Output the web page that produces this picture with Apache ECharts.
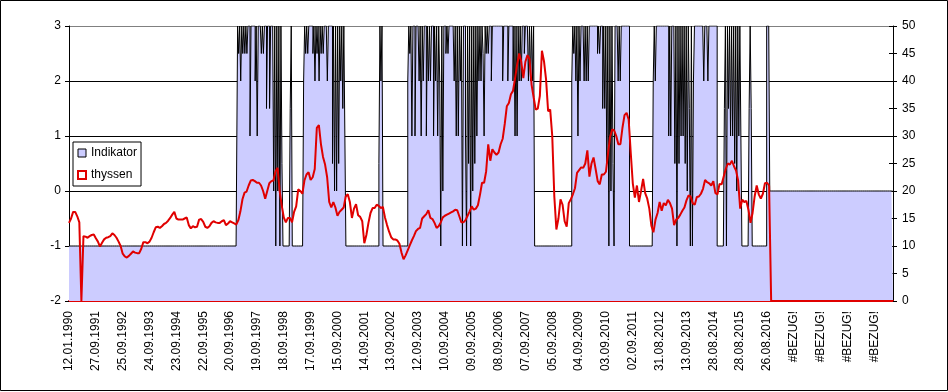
<!DOCTYPE html>
<html>
<head>
<meta charset="utf-8">
<script src="https://cdn.jsdelivr.net/npm/echarts@6/dist/echarts.min.js"></script>
<style>
html,body{margin:0;padding:0;background:#fff;}
#chart{width:948px;height:392px;}
</style>
</head>
<body>
<div id="chart"></div>
<script>
// Tick labels shown every 13th category on the category axis
var tickLabels = ["12.01.1990","27.09.1991","25.09.1992","24.09.1993","23.09.1994","22.09.1995","20.09.1996","19.09.1997","18.09.1998","17.09.1999","15.09.2000","14.09.2001","13.09.2002","12.09.2003","10.09.2004","09.09.2005","08.09.2006","07.09.2007","05.09.2008","04.09.2009","03.09.2010","02.09.2011","31.08.2012","13.09.2013","28.08.2014","28.08.2015","26.08.2016","#BEZUG!","#BEZUG!","#BEZUG!","#BEZUG!"];
var labelEvery = 13;

// Indikator (left axis, -2..3), finer sampling (800 steps)
var indikator = [
-1,-1,-1,-1,-1,-1,-1,-1,-1,-1,-1,-1,-1,-1,-1,-1,-1,-1,-1,-1,
-1,-1,-1,-1,-1,-1,-1,-1,-1,-1,-1,-1,-1,-1,-1,-1,-1,-1,-1,-1,
-1,-1,-1,-1,-1,-1,-1,-1,-1,-1,-1,-1,-1,-1,-1,-1,-1,-1,-1,-1,
-1,-1,-1,-1,-1,-1,-1,-1,-1,-1,-1,-1,-1,-1,-1,-1,-1,-1,-1,-1,
-1,-1,-1,-1,-1,-1,-1,-1,-1,-1,-1,-1,-1,-1,-1,-1,-1,-1,-1,-1,
-1,-1,-1,-1,-1,-1,-1,-1,-1,-1,-1,-1,-1,-1,-1,-1,-1,-1,-1,-1,
-1,-1,-1,-1,-1,-1,-1,-1,-1,-1,-1,-1,-1,-1,-1,-1,-1,-1,-1,-1,
-1,-1,-1,-1,-1,-1,-1,-1,-1,-1,-1,-1,-1,-1,-1,-1,-1,-1,-1,-1,
-1,-1,-1,-1,3,2.5,3,2,3,2.5,3,2.5,3,2.5,3,3,1,3,3,3,
3,2,3,1,3,3,3,2.5,3,2.5,3,3,1.5,3,3,1.5,3,3,3,0,
3,-1,3,0,3,-1,3,0.5,-1,-1,-1,-1,-1,-1,-1,1.5,3,-1,-1,-1,
-1,-1,-1,-1,-1,-1,-1,-1,2,3,2.5,3,2.5,3,3,3,3,2.5,3,2,
3,2.5,3,2,3,2.5,3,2.5,3,3,3,2,3,3,3,3,0.5,3,0,3,
0,3,0.5,3,2,3,1.5,3,1,-1,-1,-1,-1,-1,-1,-1,-1,-1,-1,-1,
-1,-1,-1,-1,-1,-1,-1,-1,-1,-1,-1,-1,-1,-1,-1,-1,-1,-1,-1,-1,
-1,0.5,3,2,3,-1,-1,-1,-1,-1,-1,-1,-1,-1,-1,-1,-1,-1,-1,-1,
-1,-1,-1,-1,-1,-1,-1,-1,-1,2,3,2.5,3,1,3,3,1,3,3,3,
2,3,1,3,2,3,3,1,3,2,3,2,3,3,1,3,2,3,1,3,
2,-1,3,0,3,3,2.5,3,2.5,3,3,3,3,3,2,3,1,3,1,3,
2,3,-1,3,3,1,-1,3,0.5,3,-1,3,0,3,0.5,3,1,3,2,3,
2,3,2.5,1,3,2.5,3,2.5,3,3,2,3,3,3,3,3,3,3,3,3,
3,2,3,3,3,3,2,3,3,3,3,2,3,1,3,1,3,2,3,2,
3,3,2.5,3,3,3,2,3,2,3,2,3,-1,-1,-1,-1,-1,-1,-1,-1,
-1,-1,-1,-1,-1,-1,-1,-1,-1,-1,-1,-1,-1,-1,-1,-1,-1,-1,-1,-1,
-1,-1,-1,-1,-1,-1,-1,-1,2,3,2.5,3,2,3,1,3,2,3,3,3,
2,3,2,3,2,3,3,3,3,3,3,3,3,2.5,3,2.5,3,3,1.5,3,
1.5,3,0.5,3,-1,3,0,3,0.5,-1,3,3,3,2,3,2,3,3,3,3,
3,3,3,3,-1,-1,-1,-1,-1,-1,-1,-1,-1,-1,-1,-1,-1,-1,-1,-1,
-1,-1,-1,-1,-1,-1,-1,2,3,2,3,3,3,3,3,3,3,3,3,3,
3,3,1,3,1,3,3,3,0.5,3,-1,3,0.5,3,1,3,1,3,0.5,3,
0,3,1.5,-1,3,-1,2,3,3,3,3,3,3,3,3,3,2,3,3,3,
2,3,3,3,3,3,3,3,3,-1,-1,-1,-1,-1,-1,-1,1.5,3,-1,3,
1.5,3,1,3,1,3,0.5,3,0,3,1,3,1,-1,-1,-1,-1,-1,-1,-1,
1.5,3,1.5,-1,-1,-1,-1,-1,-1,-1,-1,-1,-1,-1,-1,-1,-1,3,3,3,
0,0,0,0,0,0,0,0,0,0,0,0,0,0,0,0,0,0,0,0,
0,0,0,0,0,0,0,0,0,0,0,0,0,0,0,0,0,0,0,0,
0,0,0,0,0,0,0,0,0,0,0,0,0,0,0,0,0,0,0,0,
0,0,0,0,0,0,0,0,0,0,0,0,0,0,0,0,0,0,0,0,
0,0,0,0,0,0,0,0,0,0,0,0,0,0,0,0,0,0,0,0,
0,0,0,0,0,0,0,0,0,0,0,0,0,0,0,0,0,0,0,0
];

// thyssen (right axis, 0..50), 400 steps
var thyssen = [
14.2,15.0,16.2,16.2,15.4,14.3,0,11.8,11.7,11.5,
11.8,12.0,12.1,11.4,10.8,9.9,10.6,11.2,11.5,11.6,
11.8,12.3,12.0,11.5,10.8,10.0,8.6,8.1,7.9,8.2,
8.6,9.0,8.8,8.7,8.7,9.5,10.7,10.7,10.5,10.8,
11.5,12.5,13.4,13.5,13.3,13.6,14.0,14.2,14.6,15.1,
15.7,16.2,15.0,14.8,14.8,14.8,15.0,15.2,13.8,13.2,
13.6,13.4,13.5,14.8,14.9,14.4,13.5,13.3,13.6,14.2,
14.5,14.3,14.2,14.2,14.5,14.7,13.8,14.1,14.5,14.3,
14.1,13.9,14.7,16.3,18.5,19.7,19.9,21.0,21.9,22.0,
21.8,21.5,21.5,21.0,20.0,18.6,20.0,21.4,21.8,21.9,
23.6,24.2,20.0,17.4,15.2,14.3,15.1,15.1,14.3,16.2,
17.2,20.3,20.0,19.5,21.9,23.0,23.4,22.0,22.5,24.0,
31.5,32.0,28.5,26.2,24.8,22.5,18.0,17.0,18.0,17.0,
15.5,16.2,16.6,17.0,19.0,19.4,18.0,15.1,16.8,17.6,
15.6,15.3,14.5,10.5,12.0,14.2,16.0,16.9,16.9,17.5,
17.3,16.9,17.1,15.2,13.8,12.6,11.6,11.2,11.2,11.0,
10.4,8.8,7.6,8.3,9.2,10.1,11.0,11.8,12.7,13.1,
13.3,15.0,15.4,15.8,16.5,15.1,14.9,14.2,13.3,13.6,
14.3,15.2,15.5,15.7,15.9,16.1,16.3,16.6,16.5,15.4,
14.3,14.3,14.7,15.5,16.3,17.2,16.6,16.8,17.4,19.3,
21.5,21.5,23.6,28.5,25.5,27.6,27.0,26.6,27.0,28.5,
29.5,32.2,35.4,36.0,37.6,38.2,40.5,43.0,45.0,43.5,
40.5,43.5,44.7,44.0,39.3,37.0,34.8,35.0,37.3,45.5,
43.6,40.3,34.5,34.8,30.0,19.0,13.0,15.0,18.5,17.5,
14.5,13.5,17.8,18.5,19.4,20.5,23.3,23.8,24.3,24.2,
25.0,27.4,22.6,25.0,26.1,24.0,21.8,21.2,23.0,23.0,
23.5,26.8,29.8,31.2,31.0,30.0,28.5,28.5,31.5,33.8,
34.2,33.0,27.0,21.4,18.8,21.0,18.0,20.0,22.2,19.6,
18.6,16.8,13.7,12.5,14.8,16.0,18.0,16.4,17.8,17.4,
18.4,17.8,16.8,13.8,14.8,15.1,15.7,16.4,17.0,18.3,
19.2,19.0,17.8,17.5,18.9,19.0,19.5,20.4,22.0,21.6,
21.4,21.0,21.8,19.6,19.4,21.3,21.2,22.6,24.0,25.0,
24.8,25.5,24.5,23.7,21.9,16.8,18.4,18.0,18.2,16.6,
14.2,16.0,19.0,21.0,19.4,18.6,19.5,21.4,21.5,21.0,
0,0,0,0,0,0,0,0,0,0,0,0,0,0,0,0,0,0,0,0,
0,0,0,0,0,0,0,0,0,0,0,0,0,0,0,0,0,0,0,0,
0,0,0,0,0,0,0,0,0,0,0,0,0,0,0,0,0,0,0,0
];

var categories = thyssen.map(function (v, i) {
  return (i % labelEvery === 0) ? tickLabels[i / labelEvery] : '';
});
var fineCategories = indikator.map(function (v, i) { return String(i); });

var FONT = 'Liberation Sans, Arial, sans-serif';
var RED = '#e00000';

var chart = echarts.init(document.getElementById('chart'), null, {renderer: 'canvas'});
chart.setOption({
  animation: false,
  backgroundColor: '#fff',
  textStyle: {fontFamily: FONT},
  graphic: [{
    type: 'rect', silent: true, z: 100,
    shape: {x: 0.5, y: 0.5, width: 947, height: 390},
    style: {fill: null, stroke: '#000', lineWidth: 1}
  }],
  grid: {left: 69, right: 55, top: 26, bottom: 91, containLabel: false},
  legend: {
    orient: 'vertical', left: 73, top: 142,
    padding: [4, 4, 4, 4], itemGap: 8, itemWidth: 8, itemHeight: 8,
    borderColor: '#000', borderWidth: 1, backgroundColor: '#fff',
    textStyle: {fontSize: 12, color: '#000', fontFamily: FONT, lineHeight: 14},
    data: [
      {name: 'Indikator', icon: 'rect', itemStyle: {color: '#ccccff', borderColor: '#000', borderWidth: 1}},
      {name: 'thyssen', icon: 'rect', itemStyle: {color: '#fff', borderColor: RED, borderWidth: 2}}
    ]
  },
  xAxis: [{
    type: 'category', boundaryGap: false, data: categories,
    axisLine: {onZero: false, lineStyle: {color: RED, width: 2}},
    axisTick: {show: false},
    splitLine: {show: false},
    axisLabel: {interval: labelEvery - 1, rotate: 90, fontSize: 12, color: '#000', margin: 10, fontFamily: FONT}
  }, {
    type: 'category', boundaryGap: false, data: fineCategories, show: false,
    position: 'bottom',
    axisLine: {onZero: false}
  }],
  yAxis: [{
    type: 'value', min: -2, max: 3, interval: 1, position: 'left',
    axisLine: {show: true, lineStyle: {color: '#000', width: 1}},
    axisTick: {show: true, inside: false, length: 4, lineStyle: {color: '#000'}},
    axisLabel: {fontSize: 12, color: '#000', margin: 8, fontFamily: FONT},
    splitLine: {show: true, lineStyle: {color: ['#000', '#000', '#000', '#000', '#000', '#808080'], width: 1}}
  }, {
    type: 'value', min: 0, max: 50, interval: 5, position: 'right',
    axisLine: {show: true, lineStyle: {color: '#000', width: 1}},
    axisTick: {show: true, inside: false, length: 4, lineStyle: {color: '#000'}},
    axisLabel: {fontSize: 12, color: '#000', margin: 9, fontFamily: FONT},
    splitLine: {show: false}
  }, {
    type: 'value', min: 0, max: 50, interval: 5, position: 'right',
    axisLine: {show: false},
    axisTick: {show: true, inside: true, length: 4, lineStyle: {color: '#000'}},
    axisLabel: {show: false},
    splitLine: {show: false}
  }],
  series: [{
    name: 'Indikator', type: 'line', xAxisIndex: 1, yAxisIndex: 0, step: 'middle',
    symbol: 'none', z: 2,
    lineStyle: {color: '#000', width: 1},
    itemStyle: {color: '#ccccff'},
    areaStyle: {color: '#ccccff', opacity: 1, origin: 'start'},
    data: indikator
  }, {
    name: 'thyssen', type: 'line', xAxisIndex: 0, yAxisIndex: 1,
    symbol: 'none', z: 3,
    lineStyle: {color: RED, width: 2},
    itemStyle: {color: RED},
    data: thyssen
  }]
});
</script>
</body>
</html>
